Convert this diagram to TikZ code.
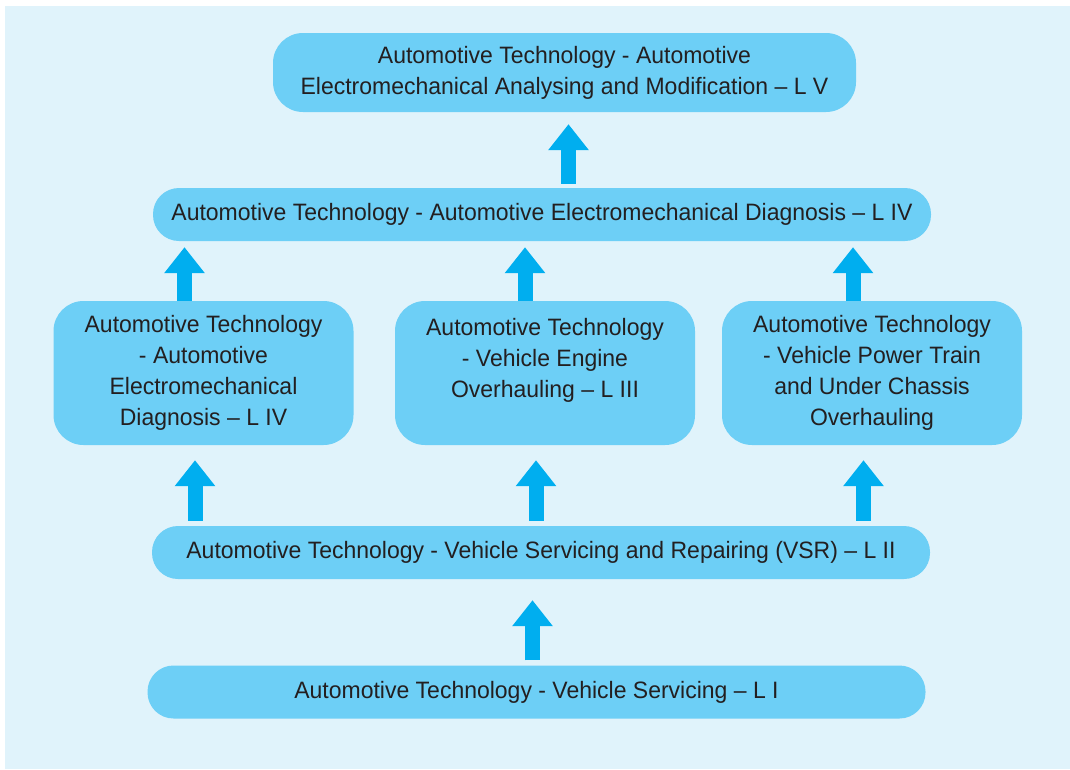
\documentclass[tikz,border=0pt]{standalone}
\usepackage{fontspec}
\setmainfont{Liberation Sans}[FakeStretch=0.97]
\usepackage{tikz}
\usetikzlibrary{calc,arrows.meta}
\definecolor{bgblue}{HTML}{E0F3FB}
\definecolor{boxblue}{HTML}{6DCFF6}
\definecolor{arrowblue}{HTML}{00AEEF}
\definecolor{textdark}{HTML}{231F20}
\tikzset{
  uparrow/.style = {-{Triangle[width=39pt,length=26pt]}, line width=15pt, draw=arrowblue},
  box/.style     = {fill=boxblue, text=textdark, align=center, inner sep=0pt, font=\fontsize{23.7}{31}\selectfont},
  topbox/.style  = {box, rounded corners=30pt, minimum width=583pt, minimum height=79pt},
  widebox/.style = {box, rounded corners=26pt, minimum width=778pt, minimum height=53pt},
  tallbox/.style = {box, rounded corners=30pt, minimum width=300pt, minimum height=144pt},
}

\begin{document}
\begin{tikzpicture}[x=1pt, y=1pt]
  \useasboundingbox (0,0) rectangle (1070,-769);
  \fill[bgblue] (5,-6) rectangle (1070,-769);
  \node[topbox] (lv) at (564.5,-72.5) {Automotive Technology - Automotive\\Electromechanical Analysing and Modification -- L V};
  \node[widebox] (liv) at (542,-214.5) {Automotive Technology - Automotive Electromechanical Diagnosis -- L IV};
  \node[tallbox] (diag) at (203.5,-373) {Automotive Technology\\- Automotive\\Electromechanical\\Diagnosis -- L IV};
  \node[tallbox] (engine) at (545,-373) {Automotive Technology\\- Vehicle Engine\\Overhauling -- L III\\\mbox{}};
  \node[tallbox] (train) at (872,-373) {Automotive Technology\\- Vehicle Power Train\\and Under Chassis\\Overhauling};
  \node[widebox] (vsr) at (541,-552.5) {Automotive Technology - Vehicle Servicing and Repairing (VSR) -- L II};
  \node[widebox] (li) at (536.5,-692) {Automotive Technology - Vehicle Servicing -- L I};
  \draw[uparrow] ($(li.north)+(-4,5)$) -- ($(vsr.south)+(-8.5,-21)$);
  \draw[uparrow] ($(vsr.north -| diag.south)+(-8.5,5)$) -- ($(diag.south)+(-8.5,-15)$);
  \draw[uparrow] ($(vsr.north -| engine.south)+(-9,5)$) -- ($(engine.south)+(-9,-15)$);
  \draw[uparrow] ($(vsr.north -| train.south)+(-8.5,5)$) -- ($(train.south)+(-8.5,-15)$);
  \draw[uparrow] ($(diag.north)+(-19,0)$) -- ($(liv.south -| diag.north)+(-19,-6)$);
  \draw[uparrow] ($(engine.north)+(-20,0)$) -- ($(liv.south -| engine.north)+(-20,-6)$);
  \draw[uparrow] ($(train.north)+(-19,0)$) -- ($(liv.south -| train.north)+(-19,-6)$);
  \draw[uparrow] ($(liv.north -| lv.south)+(4,4)$) -- ($(lv.south)+(4,-12)$);
\end{tikzpicture}
\end{document}
